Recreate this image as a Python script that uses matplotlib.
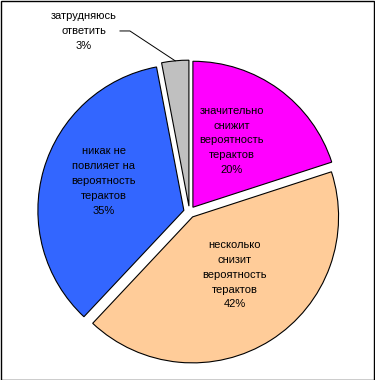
import matplotlib.pyplot as plt
from matplotlib.patches import Rectangle
import numpy as np

plt.rcParams['font.family'] = ['Liberation Sans', 'DejaVu Sans']

labels = ['значительно\nснижит\nвероятность\nтерактов',
          'несколько\nснизит\nвероятность\nтерактов',
          'никак не\nповлияет на\nвероятность\nтерактов',
          'затрудняюсь\nответить']
values = [20, 42, 35, 3]
colors = ['#FF00FF', '#FFCC99', '#3366FF', '#C0C0C0']

# label centres inside the slices (data units, radius = 1)
label_pos = [(0.29, 0.49), (0.31, -0.43), (-0.586, 0.212)]

fig = plt.figure(figsize=(3.75, 3.8), dpi=100)
ax = fig.add_axes([0, 0, 1, 1])

explode = [0.04] * len(values)
wedges, texts = ax.pie(values, colors=colors, explode=explode, startangle=90,
                       counterclock=False, radius=1,
                       wedgeprops=dict(edgecolor='black', linewidth=0.8))
ax.set_xlim(-1.298, 1.271)
ax.set_ylim(-1.151, 1.452)

for i, (x, y) in enumerate(label_pos):
    ax.text(x, y, labels[i] + '\n' + str(values[i]) + '%', ha='center', va='center',
            fontsize=8, linespacing=1.6)

# small grey slice: label outside with leader line
total = sum(values)
mid = 90 - 360 * (sum(values[:3]) + values[3] / 2) / total
r = 1 + explode[3]
px, py = r * np.cos(np.radians(mid)), r * np.sin(np.radians(mid))
ax.text(-0.723, 1.24, labels[3] + '\n' + str(values[3]) + '%', ha='center', va='center',
        fontsize=8, linespacing=1.6)
ax.plot([-0.476, -0.408, px], [1.24, 1.24, py], color='black', lw=0.7)

fig.patches.append(Rectangle((0.5 / 375, 0.5 / 380), 373 / 375, 379 / 380,
                             transform=fig.transFigure, fill=False,
                             edgecolor='black', lw=1))

fig.savefig('out.png', dpi=100)
